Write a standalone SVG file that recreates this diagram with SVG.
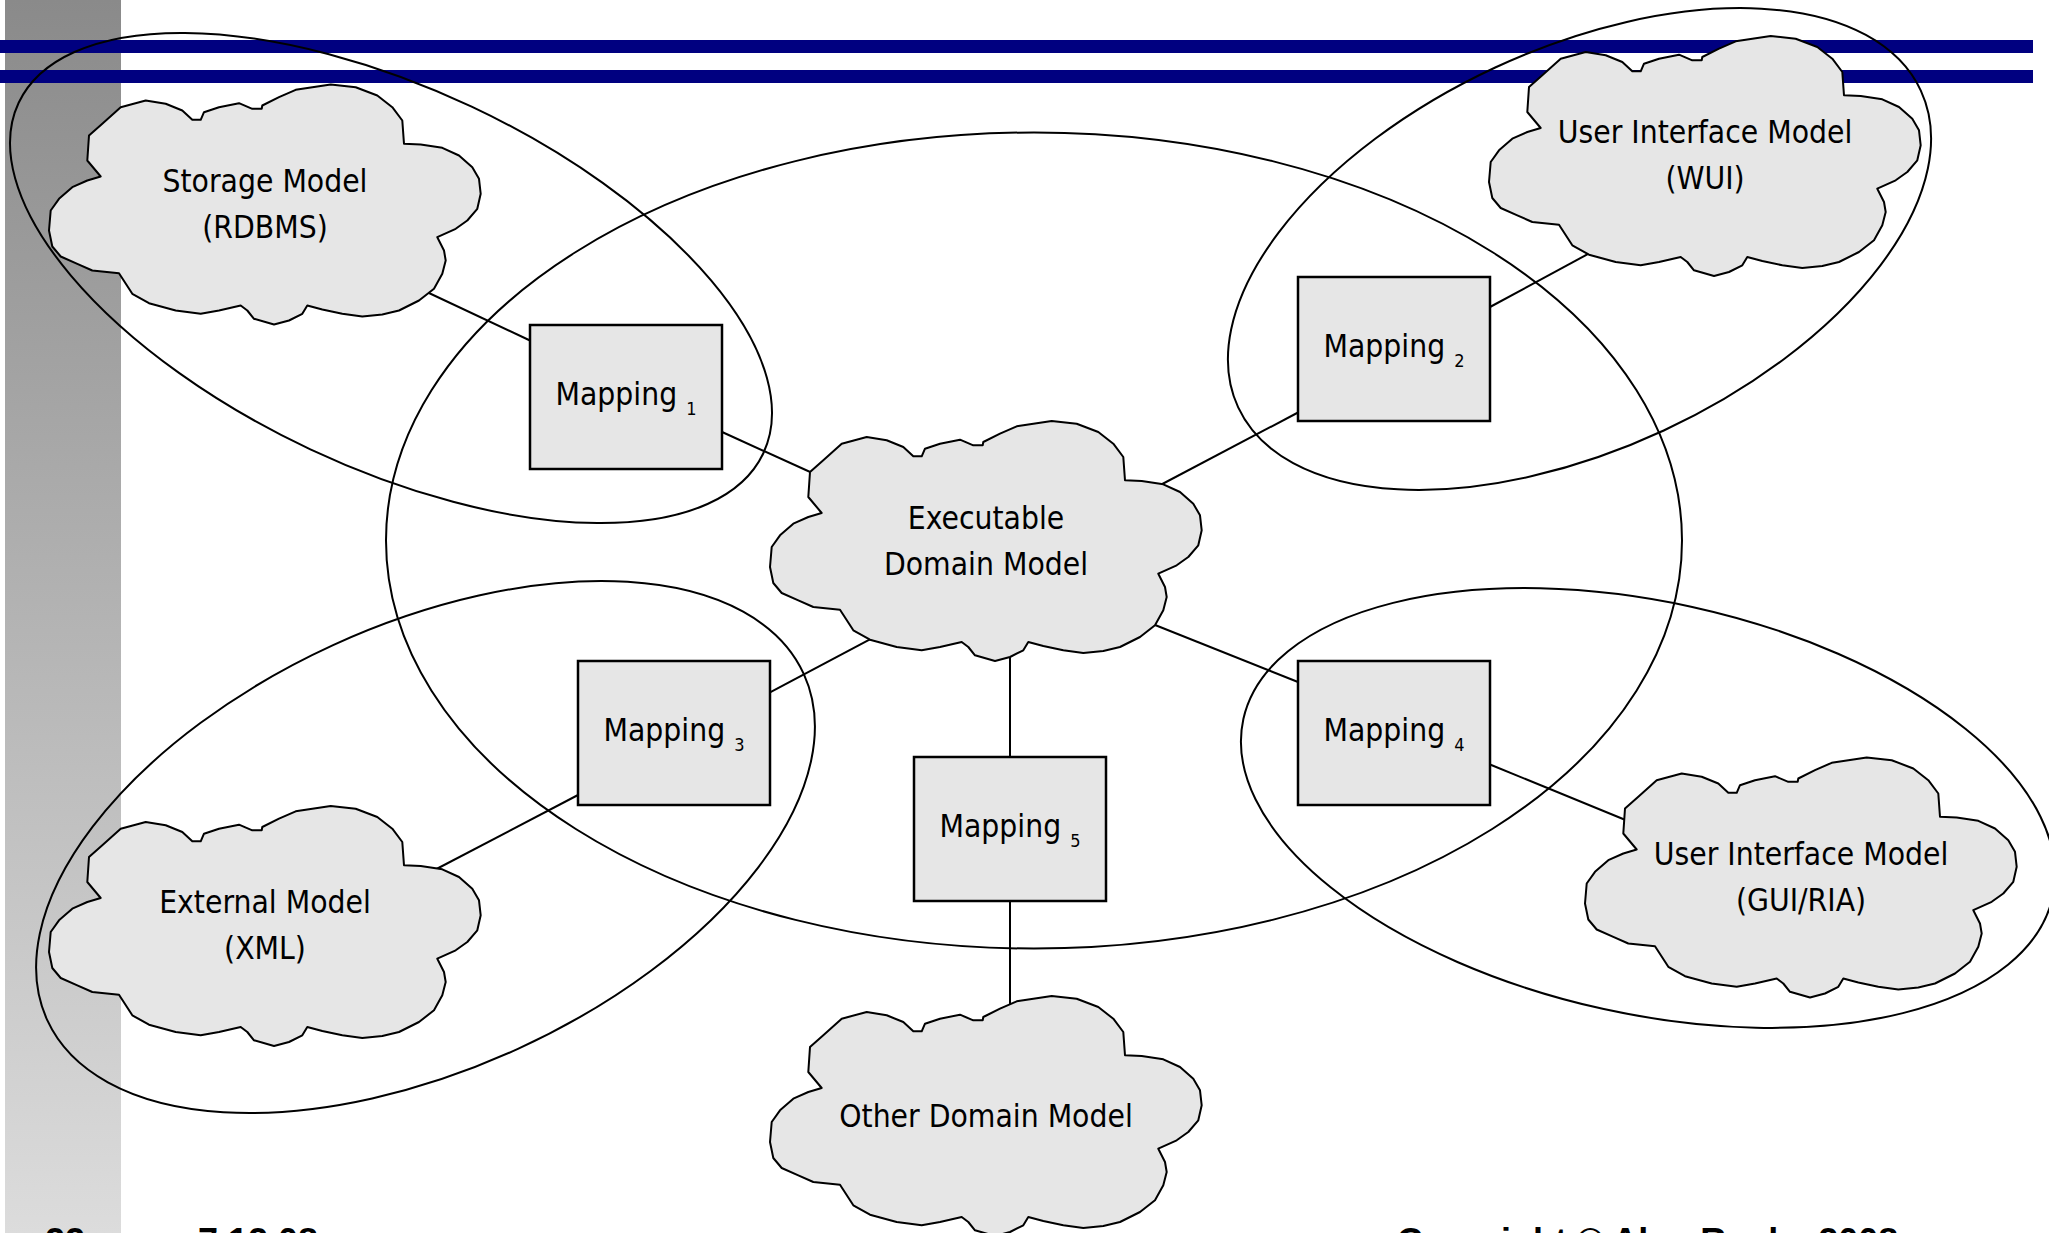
<svg xmlns="http://www.w3.org/2000/svg" xmlns:xlink="http://www.w3.org/1999/xlink" width="2049" height="1233" viewBox="0 0 2049 1233">
  <defs>
    <linearGradient id="sidebar" x1="0" y1="0" x2="0" y2="1">
      <stop offset="0" stop-color="#8a8a8a"/>
      <stop offset="1" stop-color="#dcdcdc"/>
    </linearGradient>
    <!-- cloud outline, 432 x 240 local box -->
    <path id="cloud" d="M51.7,92 L38.3,76 L40,51 L53.3,39.3 L71.7,22.7 L96.7,16 L116.7,19.3 L133.3,26 L143.3,35.3 L151.7,35.3 L155,27.7 L170,22.7 L190,18.7 L203.3,24.3 L212.7,24.3 L213.3,21 L230,12.7 L246.7,5.3 L281.7,0 L306.7,2.7 L328.3,11 L343.3,22.7 L353.3,36 L355,59.3 L371.7,60 L393.3,63.3 L410,71 L423.3,82.7 L430,94.3 L431.7,109.3 L428.3,124.3 L418.3,136 L406.7,144.3 L388.3,152.7 L395,166 L396.7,176 L393.3,189.3 L385,204.3 L370,216 L350,226 L333.3,230 L313.3,232 L293.3,229.3 L273.3,225 L258.3,221 L253.3,229.3 L240,236 L225,240 L205,234.3 L198.3,226 L191.7,221 L170,226 L151.7,229.3 L126.7,226 L100,218.7 L83.3,209.3 L70,188.7 L43.3,186 L28.3,179.3 L11.7,172 L3.3,162 L0,146 L1.7,126 L10,114.3 L23.3,102.7 L38.3,96 Z"/>
  </defs>
  <style>
    .cloud { fill: #e6e6e6; stroke: #000; stroke-width: 2; stroke-linejoin: round; }
    .box { fill: #e6e6e6; stroke: #000; stroke-width: 2.5; }
    .group { fill: none; stroke: #000; stroke-width: 2; }
    .link { stroke: #000; stroke-width: 2; fill: none; }
    .label { font-family: "DejaVu Sans Condensed", "DejaVu Sans", sans-serif; font-stretch: condensed; font-size: 31.5px; fill: #000; text-anchor: middle; }
    .sub { font-size: 18px; }
    .footer { font-family: "Liberation Sans", Arial, sans-serif; font-weight: bold; font-size: 36px; fill: #000; }
  </style>

  <rect width="2049" height="1233" fill="#fff"/>

  <!-- slide frame -->
  <g id="frame">
    <rect x="5" y="0" width="116" height="1233" fill="url(#sidebar)"/>
    <rect x="0" y="40" width="2033" height="13" fill="#000080"/>
    <rect x="0" y="70" width="2033" height="13" fill="#000080"/>
  </g>

  <!-- groupings -->
  <g id="groupings" class="group">
    <ellipse cx="1034" cy="540.5" rx="648" ry="408"/>
    <ellipse cx="391" cy="278" rx="411.5" ry="189.4" transform="rotate(25.2 391 278)"/>
    <ellipse cx="1579.5" cy="249" rx="376.3" ry="200.1" transform="rotate(-24.9 1579.5 249)"/>
    <ellipse cx="425.5" cy="847" rx="416" ry="222" transform="rotate(-24.6 425.5 847)"/>
    <ellipse cx="1648" cy="808" rx="414.3" ry="205.9" transform="rotate(12.4 1648 808)"/>
  </g>

  <!-- connectors -->
  <g id="connectors" class="link">
    <line x1="413" y1="285.5" x2="530" y2="340.5"/>
    <line x1="721" y1="431.5" x2="830" y2="481"/>
    <line x1="1490" y1="307" x2="1600" y2="247.5"/>
    <line x1="1298" y1="412.5" x2="1150" y2="490.5"/>
    <line x1="885" y1="631.3" x2="770" y2="692.4"/>
    <line x1="578" y1="795" x2="425" y2="875"/>
    <line x1="1140" y1="619" x2="1298" y2="682"/>
    <line x1="1490" y1="764.5" x2="1645" y2="828"/>
    <line x1="1010" y1="640" x2="1010" y2="757"/>
    <line x1="1010" y1="900" x2="1010" y2="1020"/>
  </g>

  <!-- mapping nodes -->
  <g id="mapping1">
    <rect class="box" x="530" y="325" width="192" height="144"/>
    <text class="label" x="626" y="405">Mapping <tspan class="sub" dy="10">1</tspan></text>
  </g>
  <g id="mapping2">
    <rect class="box" x="1298" y="277" width="192" height="144"/>
    <text class="label" x="1394" y="357">Mapping <tspan class="sub" dy="10">2</tspan></text>
  </g>
  <g id="mapping3">
    <rect class="box" x="578" y="661" width="192" height="144"/>
    <text class="label" x="674" y="741">Mapping <tspan class="sub" dy="10">3</tspan></text>
  </g>
  <g id="mapping4">
    <rect class="box" x="1298" y="661" width="192" height="144"/>
    <text class="label" x="1394" y="741">Mapping <tspan class="sub" dy="10">4</tspan></text>
  </g>
  <g id="mapping5">
    <rect class="box" x="914" y="757" width="192" height="144"/>
    <text class="label" x="1010" y="837">Mapping <tspan class="sub" dy="10">5</tspan></text>
  </g>

  <!-- model nodes -->
  <g id="storage-model">
    <use xlink:href="#cloud" class="cloud" x="49" y="84.5"/>
    <text class="label" x="265" y="192">Storage Model</text>
    <text class="label" x="265" y="238">(RDBMS)</text>
  </g>
  <g id="wui-model">
    <use xlink:href="#cloud" class="cloud" x="1489" y="36"/>
    <text class="label" x="1705" y="143">User Interface Model</text>
    <text class="label" x="1705" y="189">(WUI)</text>
  </g>
  <g id="domain-model">
    <use xlink:href="#cloud" class="cloud" x="770" y="421"/>
    <text class="label" x="986" y="529">Executable</text>
    <text class="label" x="986" y="575">Domain Model</text>
  </g>
  <g id="external-model">
    <use xlink:href="#cloud" class="cloud" x="49" y="806"/>
    <text class="label" x="265" y="913">External Model</text>
    <text class="label" x="265" y="959">(XML)</text>
  </g>
  <g id="gui-model">
    <use xlink:href="#cloud" class="cloud" x="1585" y="757.5"/>
    <text class="label" x="1801" y="865">User Interface Model</text>
    <text class="label" x="1801" y="911">(GUI/RIA)</text>
  </g>
  <g id="other-model">
    <use xlink:href="#cloud" class="cloud" x="770" y="996"/>
    <text class="label" x="986" y="1127">Other Domain Model</text>
  </g>

  <!-- footer -->
  <g id="footer">
    <text class="footer" x="45" y="1254">22</text>
    <text class="footer" x="198" y="1254">7.12.08</text>
    <text class="footer" x="1397" y="1254">Copyright © Alan Ruska 2008</text>
  </g>
</svg>
